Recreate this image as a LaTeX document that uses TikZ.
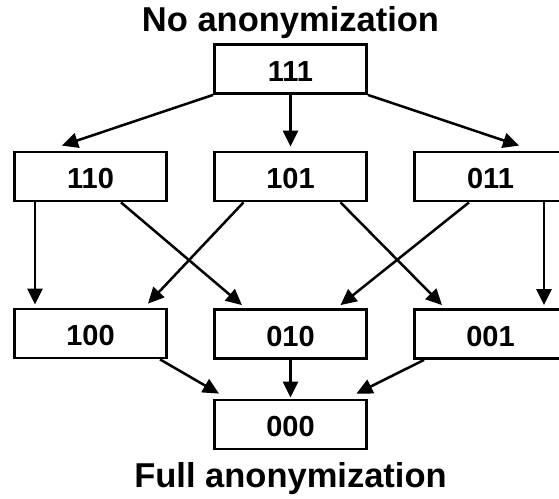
\documentclass[tikz,border=0pt]{standalone}
\usepackage{fontspec}
\setmainfont{Liberation Sans}
\usetikzlibrary{arrows.meta}
\begin{document}
\begin{tikzpicture}[x=1pt,y=-1pt,
  state/.style={draw, line width=2.8pt, minimum width=152pt, minimum height=49pt,
    inner sep=0pt, font=\fontsize{29}{29}\selectfont\bfseries, text height=25pt},
  link/.style={line width=2.5pt, -{Triangle[length=16pt,width=15pt]}},
  caption/.style={font=\fontsize{34.5}{34.5}\selectfont\bfseries, anchor=base, inner sep=0pt}]
\useasboundingbox (0,0) rectangle (559,498);

% captions
\node[caption] (topcap) at (290.5,31.5) {No anonymization};
\node[caption] (botcap) at (290.5,487) {Full anonymization};

% lattice of states
\node[state] (n111) at (290.5,69)    {111};
\node[state] (n110) at (90.5,176.5)  {110};
\node[state] (n101) at (290.5,176.5) {101};
\node[state] (n011) at (490.5,176.5) {011};
\node[state] (n100) at (90.5,333.5)  {100};
\node[state] (n010) at (290.5,334)   {010};
\node[state] (n001) at (490.5,334)   {001};
\node[state] (n000) at (290.5,424.5) {000};

% top level
\draw[link] (n111.south west) -- ([xshift=-28.5pt,yshift=5pt]n110.north);
\draw[link] (n111.south) -- ([yshift=4pt]n101.north);
\draw[link] (n111.south east) -- ([xshift=28.5pt,yshift=5pt]n011.north);

% middle level
\draw[link] ([xshift=-55.5pt]n110.south) -- ([xshift=-55.5pt,yshift=3pt]n100.north);
\draw[link] ([xshift=30.5pt]n110.south) -- ([xshift=-48.5pt,yshift=3pt]n010.north);
\draw[link] ([xshift=-47pt]n101.south) -- ([xshift=57.5pt,yshift=4pt]n100.north);
\draw[link] ([xshift=50pt]n101.south) -- ([xshift=-48.5pt,yshift=3pt]n001.north);
\draw[link] ([xshift=-21.5pt]n011.south) -- ([xshift=50pt,yshift=3pt]n010.north);
\draw[link] ([xshift=53.5pt]n011.south) -- ([xshift=53.5pt,yshift=3pt]n001.north);

% bottom level
\draw[link] ([xshift=69.5pt]n100.south) -- ([xshift=-71.5pt,yshift=5pt]n000.north);
\draw[link] (n010.south) -- ([yshift=1pt]n000.north);
\draw[link] ([xshift=-66.5pt]n001.south) -- ([xshift=66pt,yshift=5pt]n000.north);
\end{tikzpicture}
\end{document}
